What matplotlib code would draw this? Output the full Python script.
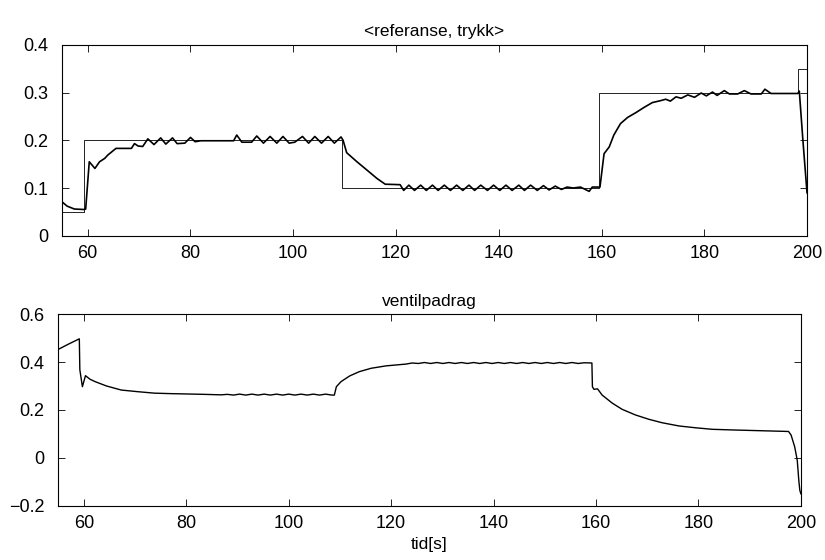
import matplotlib
matplotlib.use('Agg')
import matplotlib.pyplot as plt
from matplotlib.ticker import FuncFormatter

plt.rcParams['font.family'] = ['Liberation Sans', 'DejaVu Sans']
plt.rcParams['font.size'] = 13

# referanse (trappesignal), endringstidspunkt og nivå
t_ref = [55.0, 59.3, 109.4, 159.5, 198.2, 200.0]
ref = [0.05, 0.20, 0.10, 0.30, 0.35, 0.35]

# trykk, lest av figuren
t_p = [55.0, 56.0, 57.4, 59.3, 59.6, 60.3, 61.4, 62.3, 63.3, 63.9, 65.5, 68.5,
       69.1, 69.8, 70.7, 71.7, 72.9, 74.2, 75.2, 76.5, 77.4, 78.9, 80.0, 80.9,
       82.0, 85.0, 88.4, 89.0, 90.0, 91.9, 92.9, 94.2, 95.5, 96.8, 98.0, 99.2,
       100.3, 101.8, 103.0, 104.2, 105.5, 106.8, 108.0, 109.3, 109.7, 110.4,
       112.4, 114.3, 116.3, 117.9, 120.8, 121.5, 122.5, 123.6, 124.8, 125.9,
       127.1, 128.2, 129.4, 130.6, 131.8, 133.0, 134.2, 135.3, 136.5, 137.8,
       139.0, 140.2, 141.4, 142.6, 143.9, 145.0, 146.2, 147.5, 148.7, 149.8,
       151.0, 152.2, 153.3, 154.5, 155.9, 157.6, 158.2, 159.7, 160.5, 161.5,
       162.4, 163.7, 165.1, 166.7, 168.3, 169.9, 171.5, 172.5, 173.4, 174.5,
       175.5, 176.8, 178.1, 179.4, 180.4, 181.6, 182.5, 183.9, 184.9, 186.5,
       187.8, 189.1, 191.1, 191.8, 193.0, 196.0, 198.2, 198.5, 199.2, 200.0]
p = [0.071, 0.062, 0.056, 0.055, 0.056, 0.155, 0.141, 0.155, 0.162, 0.169,
     0.183, 0.183, 0.193, 0.188, 0.187, 0.203, 0.191, 0.205, 0.192, 0.205,
     0.193, 0.194, 0.206, 0.197, 0.199, 0.199, 0.199, 0.211, 0.196, 0.196,
     0.209, 0.194, 0.208, 0.194, 0.208, 0.194, 0.196, 0.208, 0.194, 0.208,
     0.194, 0.208, 0.194, 0.207, 0.200, 0.174, 0.155, 0.138, 0.120, 0.108,
     0.107, 0.095, 0.106, 0.095, 0.106, 0.095, 0.106, 0.095, 0.106, 0.095,
     0.106, 0.095, 0.106, 0.095, 0.106, 0.095, 0.106, 0.095, 0.106, 0.095,
     0.106, 0.095, 0.106, 0.095, 0.105, 0.096, 0.104, 0.097, 0.102, 0.100,
     0.102, 0.093, 0.102, 0.102, 0.172, 0.186, 0.211, 0.235, 0.248, 0.258,
     0.269, 0.279, 0.283, 0.286, 0.282, 0.291, 0.288, 0.295, 0.290, 0.299,
     0.293, 0.301, 0.294, 0.304, 0.297, 0.297, 0.304, 0.297, 0.297, 0.307,
     0.298, 0.298, 0.298, 0.303, 0.200, 0.090]

# ventilpådrag, lest av figuren
t_u = [55.0, 56.9, 59.1, 59.2, 59.7, 60.3, 61.2, 62.2, 64.4, 67.3, 70.6, 73.8,
       77.0, 80.3, 83.5, 86.8, 88.0, 89.2, 90.4, 91.6, 92.8, 94.0, 95.2, 96.4,
       97.6, 98.8, 100.0, 101.2, 102.4, 103.6, 104.8, 106.0, 107.2, 108.4,
       108.9, 109.3, 110.2, 111.9, 113.8, 116.1, 119.0, 122.9, 124.1, 125.3,
       126.5, 127.7, 128.9, 130.1, 131.3, 132.5, 133.7, 134.9, 136.1, 137.3,
       138.5, 139.7, 140.9, 142.1, 143.3, 144.5, 145.7, 146.9, 148.1, 149.3,
       150.5, 151.7, 152.9, 154.1, 155.3, 156.5, 157.7, 159.2, 159.3, 159.6,
       160.3, 161.2, 163.2, 165.1, 167.7, 170.3, 172.9, 176.2, 179.4, 182.7,
       187.2, 192.4, 197.6, 198.1, 198.8, 199.3, 199.6, 199.8, 200.0]
u = [0.453, 0.474, 0.497, 0.368, 0.297, 0.343, 0.328, 0.318, 0.300, 0.283,
     0.276, 0.270, 0.268, 0.2665, 0.265, 0.263, 0.265, 0.262, 0.266, 0.262,
     0.266, 0.262, 0.266, 0.262, 0.266, 0.262, 0.266, 0.262, 0.266, 0.262,
     0.266, 0.262, 0.266, 0.262, 0.262, 0.297, 0.318, 0.342, 0.360, 0.374,
     0.384, 0.3915, 0.396, 0.394, 0.398, 0.394, 0.398, 0.394, 0.398, 0.394,
     0.398, 0.394, 0.398, 0.394, 0.398, 0.394, 0.398, 0.394, 0.398, 0.394,
     0.398, 0.394, 0.398, 0.394, 0.398, 0.394, 0.398, 0.394, 0.398, 0.394,
     0.397, 0.396, 0.297, 0.286, 0.288, 0.262, 0.228, 0.2025, 0.179, 0.161,
     0.1465, 0.133, 0.1255, 0.119, 0.116, 0.113, 0.110, 0.095, 0.046, -0.010,
     -0.093, -0.135, -0.150]

x_ticks = [60, 80, 100, 120, 140, 160, 180, 200]
y_ticks_top = [0, 0.1, 0.2, 0.3, 0.4]
y_ticks_bot = [-0.2, 0, 0.2, 0.4, 0.6]


def fmt(v, pos):
    return ('%g' % round(v, 3)).replace('-', '\u2212')


fig = plt.figure(figsize=(8.25, 5.6), dpi=100)
ax1 = fig.add_axes([0.0752, 0.579, 0.903, 0.341])
ax2 = fig.add_axes([0.0707, 0.097, 0.9, 0.342])

ax1.plot(t_ref, ref, color='black', lw=0.6, drawstyle='steps-post')
ax1.plot(t_p, p, color='black', lw=1.2)
ax1.set(xlim=(55, 200), ylim=(0, 0.4), xticks=x_ticks, yticks=y_ticks_top)
ax1.set_title('<referanse, trykk>', fontsize=12.5, pad=6)

ax2.plot(t_u, u, color='black', lw=1.0)
ax2.set(xlim=(55, 200), ylim=(-0.2, 0.6), xticks=x_ticks, yticks=y_ticks_bot)
ax2.set_title('ventilpadrag', fontsize=12.5, pad=6)
ax2.set_xlabel('tid[s]', fontsize=12.5, labelpad=3)

for ax in (ax1, ax2):
    ax.yaxis.set_major_formatter(FuncFormatter(fmt))
    ax.tick_params(direction='in', top=True, right=True, length=5, width=0.6,
                   labelsize=13)
    ax.tick_params(axis='x', pad=7)
    ax.tick_params(axis='y', pad=10)
    for s in ax.spines.values():
        s.set_linewidth(0.8)

fig.savefig('out.png', dpi=100)
